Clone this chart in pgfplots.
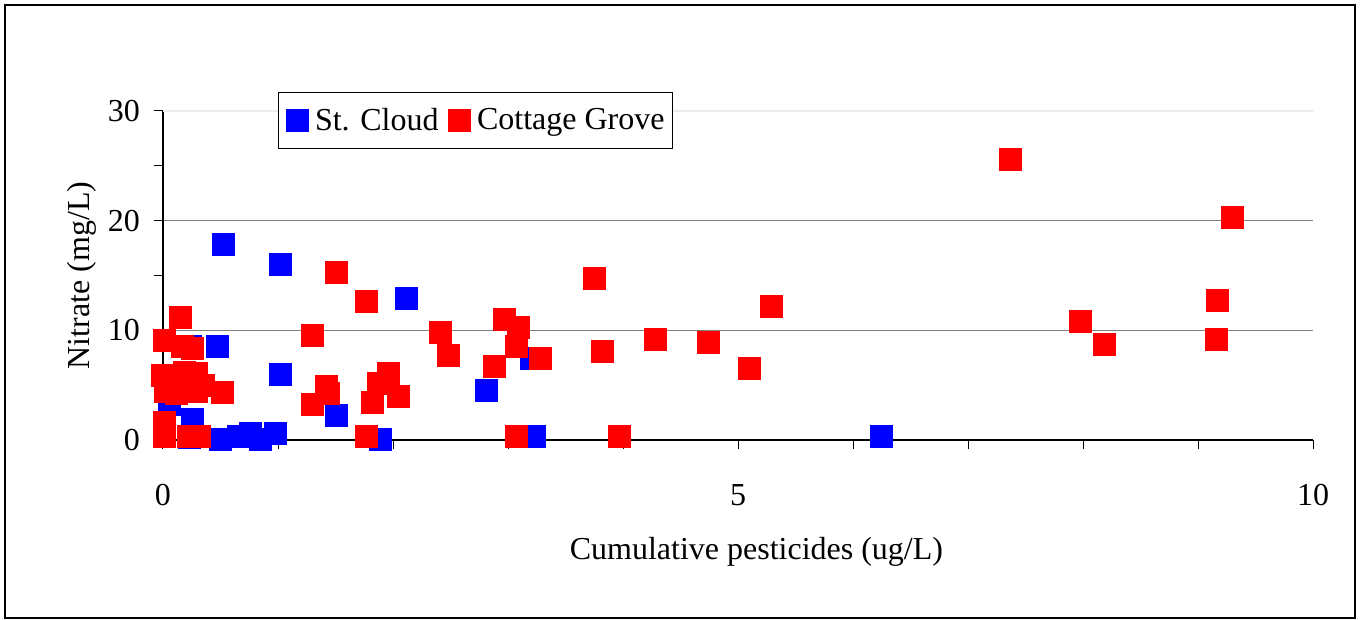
\documentclass[border=0pt]{standalone}
\usepackage{pgfplots}
\pgfplotsset{compat=1.18}
\usepackage{fontspec}
\setmainfont{Liberation Serif}
\definecolor{cblue}{RGB}{0,0,255}
\definecolor{cred}{RGB}{255,0,0}
\begin{document}
\begin{tikzpicture}[font=\fontsize{16}{19}\selectfont]
\useasboundingbox (-81.5pt,-90pt) rectangle (598.5pt,220pt);
\draw[black, line width=0.7pt] (-79pt,-89pt) rectangle (596pt,217.5pt);
\begin{axis}[
  at={(0,0)}, anchor=origin,
  scale only axis, width=575pt, height=164.5pt,
  xmin=0, xmax=10, ymin=0, ymax=30,
  axis x line*=bottom, axis y line*=left,
  axis line style={-, black, line width=0.6pt},
  xtick={0,1,...,10},
  xticklabels={0,,,,,5,,,,,10},
  ytick={0,10,20,30},
  minor ytick={5,15,25},
  tick align=outside,
  major tick length=4.5pt, minor tick length=4.5pt,
  tick style={black, line width=0.5pt},
  ymajorgrids=true,
  grid style={gray, line width=0.6pt},
  /pgf/number format/assume math mode=true,
  xticklabel style={yshift=-14pt},
  yticklabel style={xshift=-3.5pt},
  xlabel={Cumulative pesticides (ug/L)},
  ylabel={Nitrate (mg/L)},
  xlabel style={at={(axis description cs:0.516,-0.340)}, anchor=center},
  ylabel style={at={(axis description cs:-0.0704,0.5)}, anchor=center},
  clip=false,
  legend columns=2,
  legend style={at={(axis description cs:0.1,1.058)}, anchor=north west,
    draw=black, line width=0.5pt, inner xsep=2.75pt, inner ysep=5.75pt,
    column sep=0pt, nodes={inner xsep=1pt}, font=\fontsize{16}{19}\selectfont,
    /tikz/every even column/.append style={column sep=2.75pt}},
  legend image code/.code={\path (0pt,0pt) (14pt,0pt); \pgfsetlinewidth{0pt}\draw[mark repeat=1,mark phase=1] plot coordinates {(6.5pt,0cm)};},
]
\addplot[draw=white!92!black, line width=0.6pt, forget plot] coordinates {(0,30) (10,30)};
\addplot[only marks, mark=square*, mark size=5.5pt, mark options={draw=cblue, fill=cblue, line width=0pt}] coordinates {
(0.53,17.8) (1.02,16.0) (2.12,12.9) (0.47,8.5) (0.24,8.5) (1.02,6.0) (0.06,3.2)
(1.51,2.2) (0.26,1.9) (2.81,4.5) (3.20,7.45) (3.23,0.36) (6.25,0.36) (1.89,0)
(0.23,0.2) (0.50,0) (0.66,0.3) (0.76,0.55) (0.85,0) (0.98,0.55)
};
\addlegendentry{St. Cloud}
\addplot[only marks, mark=square*, mark size=5.5pt, mark options={draw=cred, fill=cred, line width=0pt}] coordinates {
(0.15,11.2) (0.01,9.05) (0.17,8.5) (0.26,8.3) (0.00,5.9) (0.19,6.2) (0.29,6.1)
(0.35,5.0) (0.02,4.4) (0.12,4.25) (0.29,4.4) (0.52,4.35) (0.01,1.6) (0.01,0.3)
(0.22,0.3) (0.32,0.3) (1.51,15.25) (1.77,12.67) (1.30,9.57) (1.30,3.25)
(1.42,4.86) (1.44,4.2) (1.77,0.3) (1.82,3.4) (1.87,5.17) (1.96,6.08) (2.05,3.95)
(2.41,9.78) (2.48,7.75) (2.97,11.0) (3.09,10.3) (3.07,8.5) (2.88,6.7) (3.28,7.4)
(3.07,0.3) (3.75,14.7) (3.82,8.1) (3.97,0.3) (4.28,9.2) (4.74,8.9) (5.10,6.5)
(5.29,12.2) (7.37,25.6) (7.98,10.85) (8.19,8.75) (9.16,9.2) (9.17,12.7) (9.30,20.3)
};
\addlegendentry{Cottage Grove}
\end{axis}
\end{tikzpicture}
\end{document}
